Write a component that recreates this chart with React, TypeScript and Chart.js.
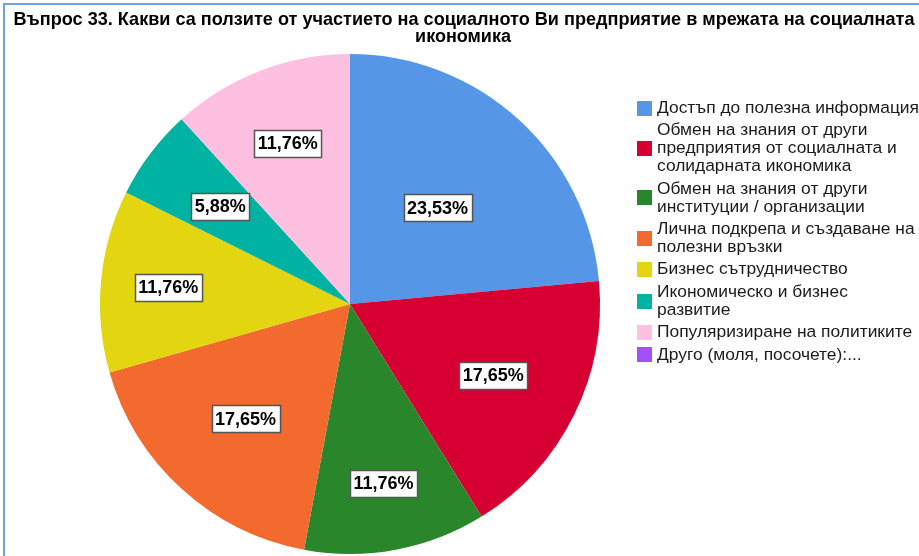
import React, { useEffect, useRef } from "react";
import { Chart, registerables } from "chart.js";

Chart.register(...registerables);

const titleLines = [
  "Въпрос 33. Какви са ползите от участието на социалното Ви предприятие в мрежата на социалната",
  "икономика",
];

const categories = [
  "Достъп до полезна информация",
  "Обмен на знания от други\nпредприятия от социалната и\nсолидарната икономика",
  "Обмен на знания от други\nинституции / организации",
  "Лична подкрепа и създаване на\nполезни връзки",
  "Бизнес сътрудничество",
  "Икономическо и бизнес\nразвитие",
  "Популяризиране на политиките",
  "Друго (моля, посочете):...",
];

const counts = [4, 3, 2, 3, 2, 1, 2, 0];

const colors = [
  "#5596e6",
  "#d60032",
  "#2a862a",
  "#f26a2e",
  "#e3d611",
  "#00b2a1",
  "#fec0e0",
  "#a450fa",
];

const labelRadius = [0.52, 0.64, 0.73, 0.62, 0.73, 0.65, 0.69, 0.6];

const FONT = '"Liberation Sans", Arial, sans-serif';

const overlayPlugin = {
  id: "overlay",
  afterDraw(chart: any) {
    const ctx: CanvasRenderingContext2D = chart.ctx;
    const W = chart.width;
    const H = chart.height;
    ctx.save();

    // frame
    ctx.fillStyle = "#6ba4e0";
    ctx.fillRect(3, 3, W - 3, 2);
    ctx.fillRect(3, 3, 2, H - 3);

    // title
    ctx.fillStyle = "#000";
    ctx.font = `bold 19px ${FONT}`;
    ctx.textAlign = "center";
    ctx.textBaseline = "middle";
    ctx.fillText(titleLines[0], 464, 20, 901);
    ctx.font = `bold 18px ${FONT}`;
    ctx.fillText(titleLines[1], 463, 37, 901);

    // slice labels
    const meta = chart.getDatasetMeta(0);
    const total = counts.reduce((a, b) => a + b, 0);
    ctx.font = `bold 18px ${FONT}`;
    meta.data.forEach((arc: any, i: number) => {
      const v = counts[i];
      if (!v) return;
      const p = arc.getProps(["x", "y", "startAngle", "endAngle", "outerRadius"], true);
      const mid = (p.startAngle + p.endAngle) / 2;
      const r = p.outerRadius * labelRadius[i];
      const cx = p.x + Math.cos(mid) * r;
      const cy = p.y + Math.sin(mid) * r;
      const txt = ((v / total) * 100).toFixed(2).replace(".", ",") + "%";
      const tw = ctx.measureText(txt).width;
      const bw = tw + 7;
      const bh = 27;
      const bx = Math.round(cx - bw / 2) + 0.5;
      const by = Math.round(cy - bh / 2) + 0.5;
      ctx.fillStyle = "#fff";
      ctx.fillRect(bx, by, bw, bh);
      ctx.strokeStyle = "#555";
      ctx.lineWidth = 1.5;
      ctx.strokeRect(bx, by, bw, bh);
      ctx.fillStyle = "#000";
      ctx.textAlign = "center";
      ctx.fillText(txt, cx, cy + 1);
    });

    // legend
    ctx.font = `17.4px ${FONT}`;
    ctx.textAlign = "left";
    ctx.textBaseline = "middle";
    const lineH = 18;
    const gap = 4.4;
    let y = 108;
    categories.forEach((cat, i) => {
      const lines = cat.split("\n");
      const first = y;
      const last = y + (lines.length - 1) * lineH;
      const mid = (first + last) / 2;
      ctx.fillStyle = colors[i];
      ctx.fillRect(637, Math.round(mid - 7.5), 15, 15);
      ctx.fillStyle = "#1a1a1a";
      lines.forEach((ln, k) => {
        ctx.fillText(ln, 657, first + k * lineH, 262);
      });
      y = last + lineH + gap;
    });

    ctx.restore();
  },
};

export default function App() {
  const ref = useRef<HTMLCanvasElement>(null);
  useEffect(() => {
    document.body.style.margin = "0";
    if (!ref.current) return;
    const chart = new Chart(ref.current, {
      type: "pie",
      data: {
        labels: categories,
        datasets: [
          {
            data: counts,
            backgroundColor: colors,
            borderWidth: 0,
          },
        ],
      },
      options: {
        animation: false,
        responsive: false,
        maintainAspectRatio: false,
        layout: { padding: { left: 100, right: 319, top: 54, bottom: 2 } },
        plugins: {
          legend: { display: false },
          title: { display: false },
          tooltip: { enabled: false },
        },
      },
      plugins: [overlayPlugin],
    });
    return () => chart.destroy();
  }, []);
  return (
    <div style={{ position: "fixed", left: 0, top: 0, width: 919, height: 556, background: "#fff" }}>
      <canvas ref={ref} width={919} height={556} style={{ display: "block", width: 919, height: 556 }} />
    </div>
  );
}
